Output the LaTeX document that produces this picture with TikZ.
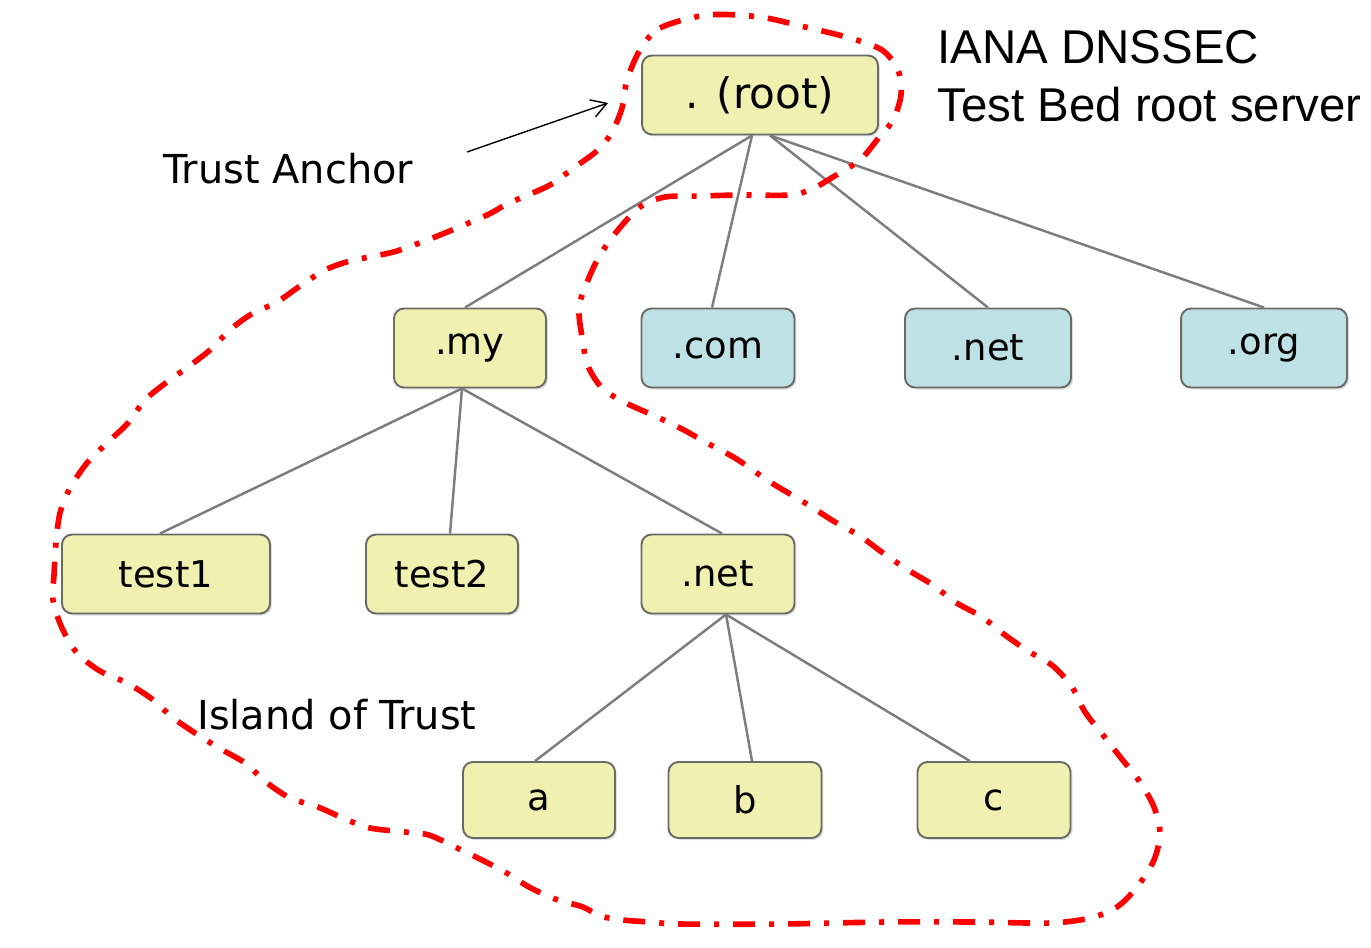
\documentclass[tikz,border=0pt]{standalone}
\usepackage{fontspec}
\setmainfont{DejaVu Sans}
\newfontfamily\ianafont{Liberation Sans}
\usetikzlibrary{arrows.meta,shadows}

\definecolor{zoneyellow}{RGB}{240,240,176}
\definecolor{zoneblue}{RGB}{190,225,229}
\definecolor{zoneborder}{RGB}{105,108,100}
\definecolor{edgegray}{RGB}{125,125,125}

\begin{document}
\begin{tikzpicture}[x=0.02cm,y=-0.02cm,
  zone/.style={draw=zoneborder,line width=1.1pt,rounded corners=0.2cm,
    minimum height=1.58cm,inner sep=0pt,
    font=\fontsize{21}{25}\selectfont,
    drop shadow={shadow xshift=0.04cm,shadow yshift=-0.04cm,opacity=0.25}},
  signed/.style={zone,fill=zoneyellow},
  unsigned/.style={zone,fill=zoneblue},
  edge/.style={draw=edgegray,line width=1.4pt},
  label/.style={anchor=west,inner sep=0pt,font=\fontsize{22.7}{27}\selectfont},
  island/.style={draw=red,line width=3.2pt,
    dash pattern=on 0.44cm off 0.28cm on 0.1cm off 0.28cm}]

\useasboundingbox (0,0) rectangle (1371,947);

\node[signed,minimum width=4.72cm,font=\fontsize{24}{28}\selectfont] (root) at (760,95) {. (root)};

\node[signed,minimum width=3.04cm] (my) at (470,348) {.my};
\node[unsigned,minimum width=3.06cm] (com) at (718,348) {.com};
\node[unsigned,minimum width=3.32cm] (net) at (988,348) {.net};
\node[unsigned,minimum width=3.32cm] (org) at (1264,348) {.org};

\node[signed,minimum width=4.16cm] (testa) at (166,574) {test1};
\node[signed,minimum width=3.04cm] (testb) at (442,574) {test2};
\node[signed,minimum width=3.06cm] (mynet) at (718,574) {.net};

\node[signed,minimum width=3.04cm,minimum height=1.52cm] (a) at (539,800) {a};
\node[signed,minimum width=3.06cm,minimum height=1.52cm] (b) at (745,800) {b};
\node[signed,minimum width=3.06cm,minimum height=1.52cm] (c) at (994,800) {c};

\foreach \from/\to/\sx/\tx in {root/my/-0.16cm/-0.1cm, root/com/-0.16cm/-0.12cm,
  root/net/0.2cm/0cm, root/org/0.2cm/0cm,
  my/testa/-0.16cm/-0.12cm, my/testb/-0.16cm/0.16cm, my/mynet/-0.16cm/0.08cm,
  mynet/a/0.16cm/-0.08cm, mynet/b/0.16cm/0.14cm, mynet/c/0.16cm/-0.48cm}
\draw[edge] ([xshift=\sx]\from.south) -- ([xshift=\tx]\to.north);

\node[anchor=north west,inner sep=0pt,align=left,
  font=\ianafont\fontsize{27}{33}\selectfont] (iana) at (937,30)
  {IANA DNSSEC\\Test Bed root server};

\node[label] (anchor) at (163,169) {Trust Anchor};
\node[label] (trust) at (197,715) {Island of Trust};

\coordinate (tail) at (467,152);
\coordinate (head) at (608,103);
\draw[line width=0.8pt,-{Straight Barb[length=0.3cm,width=0.36cm]}] (tail) -- (head);

\draw[island] plot[smooth cycle,tension=0.5] coordinates {
  (640,50) (660,28) (707,15) (760,17) (805,27) (850,38) (882,50) (898,70)
  (901,95) (893,120) (877,140) (860,160) (833,177) (812,189) (790,195)
  (740,195) (700,196) (665,197) (640,207) (618,230) (600,255) (588,280)
  (579,307) (582,337) (588,366) (603,389) (628,404) (655,416) (682,429)
  (707,443) (735,458) (767,480) (790,494) (810,506) (835,522) (860,536)
  (883,553) (908,570) (933,585) (955,602) (982,617) (1005,635) (1028,651)
  (1053,666) (1072,687) (1085,712) (1103,735) (1121,758) (1140,782)
  (1154,807) (1160,833) (1154,860) (1137,887) (1117,907) (1090,918)
  (1050,923) (975,922) (885,922) (780,924) (681,924) (650,922) (623,920)
  (600,916) (583,907) (555,899) (529,887) (505,872) (482,860) (455,847)
  (429,835) (405,832) (370,828) (345,819) (318,807) (290,798) (266,782)
  (245,763) (219,748) (195,733) (172,717) (152,699) (127,683) (100,671)
  (77,653) (62,628) (53,600) (54,575) (56,543) (60,513) (70,488) (87,463)
  (107,443) (128,423) (145,400) (167,382) (188,367) (210,350) (230,330)
  (250,315) (277,302) (300,286) (325,270) (350,261) (380,255) (400,250)
  (440,235) (487,215) (505,205) (523,197) (550,185) (575,167) (598,150)
  (612,132) (622,108) (627,80)};

\end{tikzpicture}
\end{document}
